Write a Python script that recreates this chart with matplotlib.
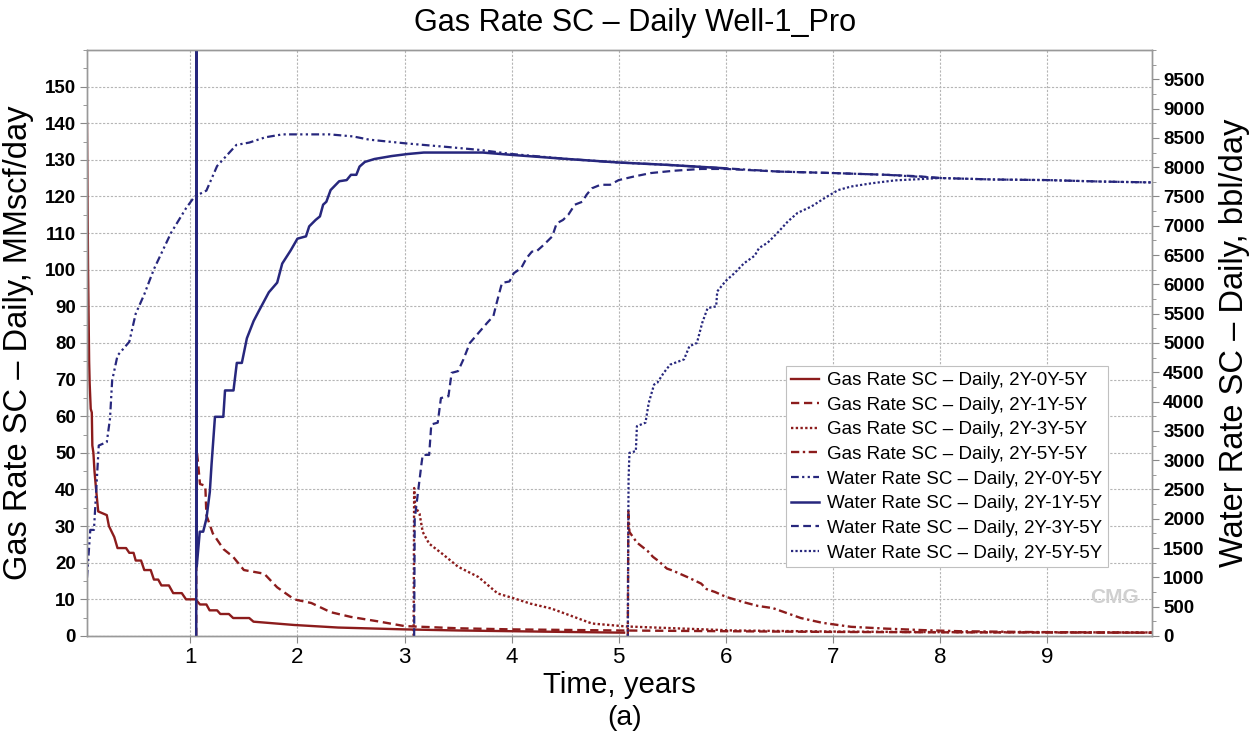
import matplotlib
matplotlib.use("Agg")
import matplotlib.pyplot as plt
from matplotlib import font_manager as fm
from matplotlib.ticker import MultipleLocator

# ---------------- data ----------------
gas_0y_t = [0.035, 0.045, 0.055, 0.06, 0.07, 0.08, 0.085, 0.095, 0.105, 0.12, 0.14, 0.22, 0.24, 0.29, 0.32,
            0.40, 0.43, 0.47, 0.49, 0.54, 0.57, 0.63, 0.66, 0.70, 0.73, 0.80, 0.84, 0.92, 0.96, 1.05,
            1.09, 1.15, 1.18, 1.25, 1.28, 1.36, 1.40, 1.55, 1.59, 1.97, 2.38, 3.0, 3.5,
            4.0, 4.5, 5.05]
gas_0y_v = [140, 100, 75, 69, 62, 61, 52, 50, 45, 40, 34, 33, 30, 27, 24,
            24, 22.7, 22.7, 20.6, 20.6, 18, 18, 15.4, 15.4, 13.8, 13.8, 11.7, 11.7, 10, 10,
            8.6, 8.6, 7, 7, 6, 6, 4.9, 4.9, 3.9, 3, 2.3, 1.8, 1.5,
            1.3, 1.1, 0.9]

gas_1y_t = [1.055, 1.057, 1.07, 1.09, 1.14, 1.15, 1.21, 1.31, 1.4, 1.5, 1.69, 1.81, 1.97, 2.13, 2.31,
            2.5, 2.75, 3.0, 3.5, 4.0, 5.0, 6.0, 7.0, 8.0, 9.0, 9.98]
gas_1y_v = [0, 51.5, 47.8, 41.5, 41, 33, 28, 23.7, 21.6, 18, 17, 13.3, 10, 9, 6.5,
            5.2, 4.0, 2.7, 2.1, 1.8, 1.5, 1.3, 1.1, 1.0, 0.95, 0.9]

gas_3y_t = [3.085, 3.09, 3.10, 3.14, 3.17, 3.23, 3.35, 3.5, 3.69, 3.87, 4.03, 4.18, 4.37, 4.5, 4.75,
            5.07, 6.07, 7.0, 8.0, 9.0, 9.98]
gas_3y_v = [0, 40.4, 35.3, 33.4, 28.4, 25.2, 22.5, 18.9, 16.1, 11.6, 10.2, 8.8, 7.5, 6.1, 3.4,
            2.6, 1.5, 1.2, 1.05, 1.0, 0.95]

gas_5y_t = [5.085, 5.09, 5.1, 5.17, 5.27, 5.32, 5.37, 5.45, 5.5, 5.64, 5.77, 5.82, 5.9, 6.0, 6.17,
            6.3, 6.44, 6.57, 6.7, 6.9, 7.17, 7.5, 7.84, 8.18, 8.85, 9.98]
gas_5y_v = [0, 34, 28.4, 25.5, 23.2, 21.6, 20.5, 18.4, 17.9, 16.1, 14.3, 12.8, 12, 10.7, 9.2,
            8.2, 7.6, 6.25, 4.9, 3.6, 2.5, 2.0, 1.6, 1.3, 1.07, 0.9]

wat_0y_t = [0.035, 0.066, 0.1, 0.145, 0.22, 0.25, 0.27, 0.32, 0.43, 0.49, 0.57, 0.66, 0.82, 0.96, 1.04,
            1.15, 1.25, 1.34, 1.43, 1.55, 1.70, 1.86, 2.3, 2.52, 2.67, 3.02, 3.4, 3.7, 4.0, 4.52,
            5.0, 5.45, 6.0, 6.5, 7.0, 7.5, 8.0, 8.5, 9.0, 9.5, 9.98]
wat_0y_v = [994, 1810, 1810, 3250, 3310, 3710, 4360, 4785, 5020, 5500, 5830, 6260, 6880, 7300, 7500,
            7600, 8020, 8200, 8380, 8420, 8510, 8560, 8560, 8525, 8470, 8405, 8345, 8295, 8225, 8140,
            8080, 8040, 7980, 7925, 7900, 7870, 7815, 7790, 7780, 7755, 7740]

wat_1y_t = [1.055, 1.056, 1.058, 1.06, 1.088, 1.12, 1.15, 1.182, 1.198, 1.23, 1.308, 1.324, 1.403, 1.434,
            1.481, 1.528, 1.591, 1.638, 1.733, 1.811, 1.858, 1.937, 2.0, 2.08, 2.11, 2.17, 2.21, 2.24,
            2.27, 2.31, 2.39, 2.46, 2.5, 2.55, 2.58, 2.63, 2.72, 2.88, 3.03, 3.18, 3.49, 3.73, 4.0,
            4.52, 5.0, 5.45, 6.0]
wat_1y_v = [0, 12000, 12000, 1190, 1780, 1780, 2000, 2460, 2925, 3740, 3740, 4190, 4190, 4660,
            4660, 5080, 5375, 5540, 5865, 6030, 6355, 6580, 6780, 6820, 6990, 7100, 7160, 7360,
            7410, 7610, 7760, 7780, 7870, 7870, 8010, 8090, 8140, 8190, 8225, 8250, 8250, 8250, 8210,
            8140, 8080, 8040, 7980]

wat_3y_t = [3.09, 3.095, 3.125, 3.16, 3.17, 3.23, 3.25, 3.31, 3.34, 3.41, 3.44, 3.5, 3.55, 3.61, 3.69,
            3.77, 3.83, 3.86, 3.91, 3.98, 4.02, 4.09, 4.14, 4.19, 4.23, 4.3, 4.38, 4.42, 4.48, 4.53,
            4.59, 4.66, 4.7, 4.75, 4.83, 4.92, 5.0, 5.14, 5.3, 5.52, 5.77, 6.0, 6.5, 7.0, 7.5, 7.8, 8.0]
wat_3y_v = [0, 1990, 2440, 2960, 3090, 3090, 3610, 3640, 4060, 4090, 4490, 4520, 4720, 5000, 5170,
            5340, 5460, 5680, 6025, 6050, 6190, 6280, 6450, 6560, 6560, 6675, 6820, 7040, 7100, 7190,
            7360, 7410, 7530, 7640, 7700, 7700, 7780, 7840, 7900, 7940, 7970, 7970, 7925, 7900, 7870,
            7845, 7815]

wat_5y_t = [5.085, 5.09, 5.092, 5.10, 5.16, 5.17, 5.25, 5.28, 5.33, 5.36, 5.42, 5.48, 5.61, 5.66, 5.73,
            5.78, 5.83, 5.91, 5.92, 6.0, 6.08, 6.17, 6.27, 6.31, 6.39, 6.48, 6.58, 6.67, 6.8, 6.92,
            7.05, 7.17, 7.36, 7.58, 7.8, 8.0, 8.5, 9.0, 9.5, 9.98]
wat_5y_v = [0, 2040, 2670, 3125, 3155, 3580, 3640, 3975, 4290, 4320, 4490, 4630, 4720, 4945, 5000,
            5345, 5595, 5625, 5880, 6060, 6190, 6360, 6490, 6620, 6710, 6875, 7075, 7220, 7330, 7470,
            7610, 7670, 7725, 7775, 7795, 7815, 7790, 7780, 7755, 7740]

gas_labels = ["Gas Rate SC \u2013 Daily, 2Y-0Y-5Y", "Gas Rate SC \u2013 Daily, 2Y-1Y-5Y",
              "Gas Rate SC \u2013 Daily, 2Y-3Y-5Y", "Gas Rate SC \u2013 Daily, 2Y-5Y-5Y"]
wat_labels = ["Water Rate SC \u2013 Daily, 2Y-0Y-5Y", "Water Rate SC \u2013 Daily, 2Y-1Y-5Y",
              "Water Rate SC \u2013 Daily, 2Y-3Y-5Y", "Water Rate SC \u2013 Daily, 2Y-5Y-5Y"]
x_ticks = [1, 2, 3, 4, 5, 6, 7, 8, 9]
left_ticks = list(range(0, 151, 10))
right_ticks = list(range(0, 9501, 500))

# ---------------- fonts ----------------
names = {f.name for f in fm.fontManager.ttflist}
SANS = "Liberation Sans" if "Liberation Sans" in names else "DejaVu Sans"
NARROW = "Liberation Sans Narrow" if "Liberation Sans Narrow" in names else SANS
narrow_scale = 1.0 if NARROW != SANS else 0.85
plt.rcParams["font.family"] = [SANS, "DejaVu Sans"]

GAS = "#8c1c1c"
WAT = "#27277d"

fig = plt.figure(figsize=(12.57, 7.44), dpi=100)
ax = fig.add_axes([0.0692, 0.1452, 0.8473, 0.7876])
ax2 = ax.twinx()

styles_g = ["-", (0, (3.5, 2)), (0, (1, 1)), (0, (3.5, 1.5, 1, 1.5))]
styles_w = [(0, (3.5, 1.5, 1, 1.5, 1, 1.5)), "-", (0, (3.5, 2)), (0, (1, 1))]

handles = []
for (t, v), ls, lab in zip([(gas_0y_t, gas_0y_v), (gas_1y_t, gas_1y_v), (gas_3y_t, gas_3y_v),
                            (gas_5y_t, gas_5y_v)], styles_g, gas_labels):
    h, = ax.plot(t, v, color=GAS, lw=1.7, linestyle=ls, label=lab)
    handles.append(h)
for (t, v), ls, lab in zip([(wat_0y_t, wat_0y_v), (wat_1y_t, wat_1y_v), (wat_3y_t, wat_3y_v),
                            (wat_5y_t, wat_5y_v)], styles_w, wat_labels):
    h, = ax2.plot(t, v, color=WAT, lw=1.8 if ls == "-" else 1.6, linestyle=ls, label=lab)
    handles.append(h)

ax.set_xlim(0.035, 9.98)
ax.set_ylim(0, 160)
ax2.set_ylim(0, 10000)

ax.set_xticks(x_ticks)
ax.set_xticklabels([str(x) for x in x_ticks], fontsize=19 * narrow_scale, family=NARROW)
ax.set_yticks(left_ticks)
ax.set_yticklabels([str(y) for y in left_ticks], fontsize=13.5, fontweight="bold")
ax.yaxis.set_minor_locator(MultipleLocator(5))
ax2.set_yticks(right_ticks)
ax2.set_yticklabels([str(y) for y in right_ticks], fontsize=13.5, fontweight="bold")
ax2.yaxis.set_minor_locator(MultipleLocator(250))

ax.tick_params(axis="both", which="major", length=5, color="#888888", pad=3)
ax.tick_params(axis="y", which="minor", length=3, color="#888888")
ax2.tick_params(axis="y", which="major", length=5, color="#888888", pad=3)
ax2.tick_params(axis="y", which="minor", length=3, color="#888888")

ax.grid(True, which="major", color="#b5b5b5", linestyle=(0, (2, 1.5)), linewidth=0.8)
ax.set_axisbelow(True)
for a in (ax, ax2):
    for s in a.spines.values():
        s.set_color("#999999")
        s.set_linewidth(1.0)

ax.set_ylabel("Gas Rate SC \u2013 Daily, MMscf/day", fontsize=23.5, labelpad=8)
ax2.set_ylabel("Water Rate SC \u2013 Daily, bbl/day", fontsize=23.5, labelpad=10)
ax.set_xlabel("Time, years", fontsize=25 * narrow_scale, family=NARROW, labelpad=2)

fig.text(0.505, 0.969, "Gas Rate SC \u2013 Daily Well-1_Pro", fontsize=26 * narrow_scale,
         family=NARROW, ha="center", va="center")
fig.text(0.497, 0.035, "(a)", fontsize=24 * narrow_scale, family=NARROW, ha="center", va="center")

ax2.text(0.965, 0.065, "CMG", transform=ax2.transAxes, fontsize=15, color="#d0d0d0",
         ha="center", va="center", fontweight="bold")

leg = ax2.legend(handles=handles, loc="upper left", bbox_to_anchor=(0.656, 0.46),
                 fontsize=13.5, frameon=True, fancybox=False, framealpha=1,
                 edgecolor="#c0c0c0", handlelength=1.5, handletextpad=0.4,
                 labelspacing=0.4, borderpad=0.3, borderaxespad=0)
leg.get_frame().set_linewidth(0.8)

fig.savefig("out.png", dpi=100)
